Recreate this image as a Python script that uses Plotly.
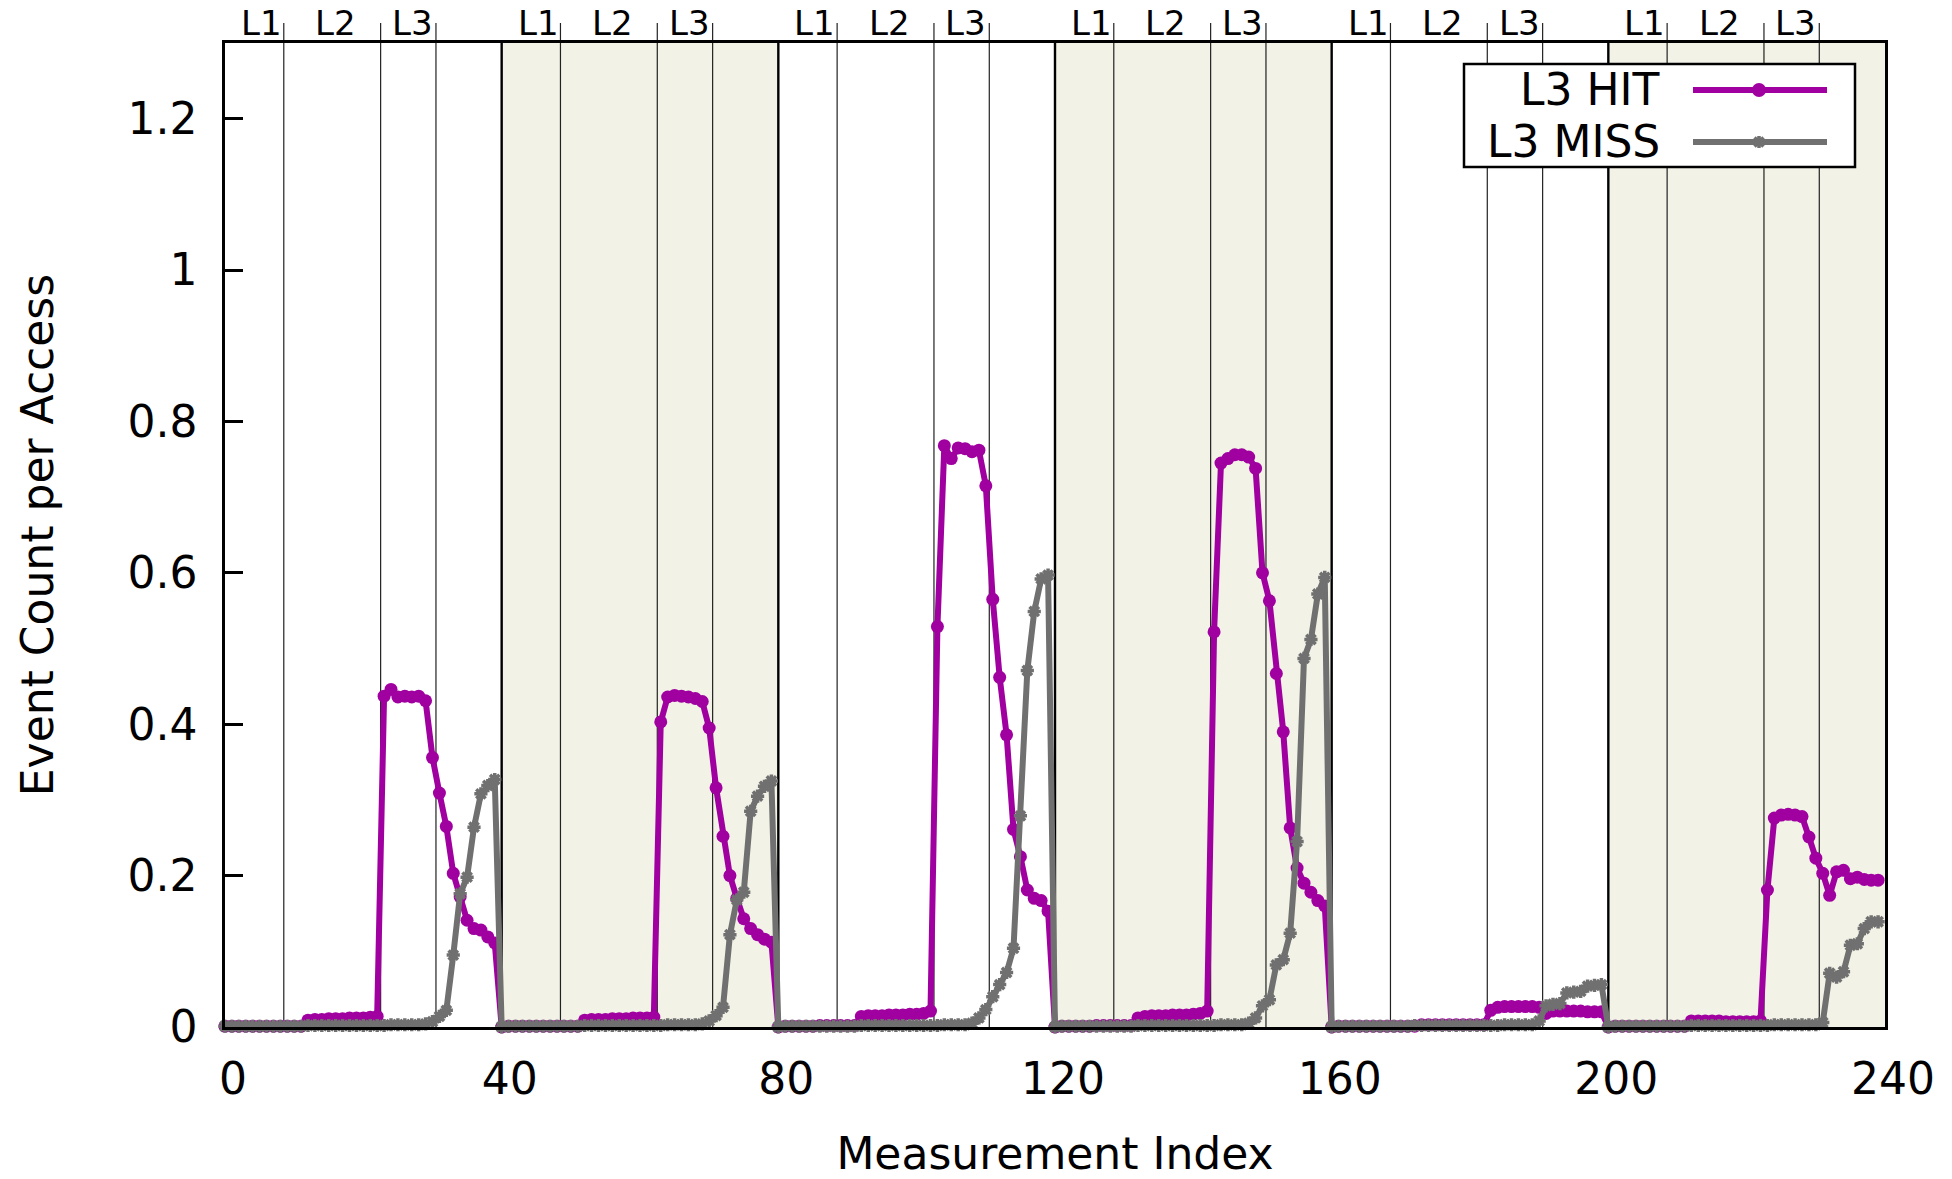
import plotly.graph_objects as go

# ---------------- data ----------------
x_index = list(range(240))

hit_block0 = [0.001, 0.001, 0.001, 0.001, 0.001, 0.001, 0.001, 0.001, 0.001, 0.001, 0.001, 0.001,
              0.009, 0.010, 0.010, 0.011, 0.011, 0.011, 0.012, 0.012, 0.012, 0.013, 0.014,
              0.437, 0.446, 0.436, 0.437, 0.436, 0.437, 0.431, 0.356, 0.309, 0.265, 0.203,
              0.172, 0.141, 0.130, 0.128, 0.119, 0.111]
hit_block1 = [0.000, 0.001, 0.001, 0.001, 0.001, 0.001, 0.001, 0.001, 0.001, 0.001, 0.001, 0.001,
              0.009, 0.010, 0.010, 0.010, 0.011, 0.011, 0.011, 0.012, 0.012, 0.012, 0.013,
              0.403, 0.436, 0.438, 0.437, 0.436, 0.434, 0.430, 0.395, 0.316, 0.252, 0.200,
              0.170, 0.143, 0.130, 0.122, 0.116, 0.112]
hit_block2 = [0.000, 0.001, 0.001, 0.001, 0.001, 0.001, 0.002, 0.002, 0.002, 0.002, 0.002, 0.002,
              0.014, 0.015, 0.015, 0.015, 0.016, 0.016, 0.016, 0.017, 0.017, 0.018, 0.021,
              0.529, 0.768, 0.751, 0.765, 0.764, 0.760, 0.762, 0.715, 0.565, 0.462, 0.386,
              0.261, 0.225, 0.181, 0.170, 0.167, 0.153]
hit_block3 = [0.000, 0.001, 0.001, 0.001, 0.001, 0.001, 0.002, 0.002, 0.002, 0.002, 0.002, 0.002,
              0.012, 0.014, 0.015, 0.015, 0.015, 0.016, 0.016, 0.016, 0.017, 0.018, 0.021,
              0.522, 0.745, 0.751, 0.756, 0.756, 0.753, 0.738, 0.600, 0.563, 0.467, 0.390,
              0.263, 0.210, 0.190, 0.178, 0.167, 0.160]
hit_block4 = [0.000, 0.001, 0.001, 0.001, 0.001, 0.001, 0.001, 0.001, 0.001, 0.001, 0.001, 0.001,
              0.001, 0.003, 0.003, 0.003, 0.003, 0.003, 0.003, 0.003, 0.003, 0.003, 0.003,
              0.022, 0.026, 0.027, 0.027, 0.027, 0.027, 0.027, 0.026, 0.018, 0.021, 0.021,
              0.021, 0.021, 0.021, 0.020, 0.020, 0.020]
hit_block5 = [0.000, 0.001, 0.001, 0.001, 0.001, 0.001, 0.001, 0.001, 0.001, 0.001, 0.001, 0.001,
              0.008, 0.008, 0.008, 0.008, 0.008, 0.007, 0.007, 0.007, 0.007, 0.007, 0.008,
              0.181, 0.276, 0.280, 0.281, 0.280, 0.278, 0.251, 0.223, 0.203, 0.174, 0.205,
              0.207, 0.196, 0.198, 0.195, 0.194, 0.194]

miss_block0 = [0.001, 0.001, 0.001, 0.001, 0.001, 0.001, 0.001, 0.001, 0.001, 0.001, 0.001, 0.001,
               0.002, 0.002, 0.002, 0.002, 0.002, 0.002, 0.002, 0.002, 0.002, 0.002, 0.002,
               0.002, 0.003, 0.003, 0.003, 0.003, 0.003, 0.004, 0.007, 0.014, 0.022, 0.095,
               0.176, 0.198, 0.264, 0.308, 0.319, 0.327]
miss_block1 = [0.000, 0.001, 0.001, 0.001, 0.001, 0.001, 0.001, 0.001, 0.001, 0.001, 0.001, 0.001,
               0.002, 0.002, 0.002, 0.002, 0.002, 0.002, 0.002, 0.002, 0.002, 0.002, 0.002,
               0.002, 0.003, 0.003, 0.003, 0.003, 0.003, 0.004, 0.008, 0.015, 0.026, 0.122,
               0.168, 0.178, 0.285, 0.305, 0.318, 0.325]
miss_block2 = [0.000, 0.001, 0.001, 0.001, 0.001, 0.001, 0.001, 0.001, 0.001, 0.001, 0.001, 0.001,
               0.002, 0.002, 0.002, 0.002, 0.002, 0.002, 0.002, 0.002, 0.002, 0.002, 0.002,
               0.002, 0.003, 0.003, 0.003, 0.003, 0.005, 0.012, 0.023, 0.040, 0.056, 0.072,
               0.104, 0.279, 0.471, 0.549, 0.592, 0.597]
miss_block3 = [0.000, 0.001, 0.001, 0.001, 0.001, 0.001, 0.001, 0.001, 0.001, 0.001, 0.001, 0.001,
               0.002, 0.002, 0.002, 0.002, 0.002, 0.002, 0.002, 0.002, 0.002, 0.002, 0.002,
               0.002, 0.003, 0.003, 0.003, 0.003, 0.005, 0.012, 0.028, 0.036, 0.082, 0.089,
               0.124, 0.245, 0.487, 0.512, 0.572, 0.594]
miss_block4 = [0.000, 0.001, 0.001, 0.001, 0.001, 0.001, 0.001, 0.001, 0.001, 0.001, 0.001, 0.001,
               0.002, 0.002, 0.002, 0.002, 0.002, 0.002, 0.002, 0.002, 0.002, 0.002, 0.002,
               0.002, 0.002, 0.003, 0.003, 0.003, 0.003, 0.003, 0.008, 0.028, 0.030, 0.031,
               0.045, 0.046, 0.047, 0.054, 0.055, 0.056]
miss_block5 = [0.000, 0.001, 0.001, 0.001, 0.001, 0.001, 0.001, 0.001, 0.001, 0.001, 0.001, 0.001,
               0.002, 0.002, 0.002, 0.002, 0.002, 0.002, 0.002, 0.002, 0.002, 0.002, 0.002,
               0.002, 0.003, 0.003, 0.003, 0.003, 0.003, 0.003, 0.003, 0.006, 0.071, 0.066,
               0.073, 0.108, 0.110, 0.130, 0.139, 0.139]

series_names = ["L3 HIT", "L3 MISS"]
x_tick_vals = [0, 40, 80, 120, 160, 200, 240]
y_tick_vals = [0, 0.2, 0.4, 0.6, 0.8, 1.0, 1.2]
y_tick_text = ["0", "0.2", "0.4", "0.6", "0.8", "1", "1.2"]
block_starts = [0, 40, 80, 120, 160, 200]
level_names = ["L1", "L2", "L3"]
level_bounds = [8.5, 22.5, 30.5]          # boundaries inside each 40-sample block
level_label_pos = [5.3, 16.0, 27.1]       # label centres inside each block
shaded_blocks = [1, 3, 5]

hit = hit_block0 + hit_block1 + hit_block2 + hit_block3 + hit_block4 + hit_block5
miss = miss_block0 + miss_block1 + miss_block2 + miss_block3 + miss_block4 + miss_block5

# ---------------- style ----------------
HIT_COLOR = "#A0009F"
MISS_COLOR = "#707070"
FONT = "DejaVu Sans"
W, H = 1952, 1179
L, R, T, B = 225, 67, 43, 152
plot_w = W - L - R
plot_h = H - T - B

fig = go.Figure()
fig.add_trace(go.Scatter(
    x=x_index, y=hit, name=series_names[0], mode="lines+markers",
    line=dict(color=HIT_COLOR, width=6),
    marker=dict(symbol="circle", size=13, color=HIT_COLOR),
    cliponaxis=False))
fig.add_trace(go.Scatter(
    x=x_index, y=miss, name=series_names[1], mode="lines+markers",
    line=dict(color=MISS_COLOR, width=6),
    marker=dict(symbol="asterisk-open", size=11, color=MISS_COLOR,
                line=dict(color=MISS_COLOR, width=3.5)),
    cliponaxis=False))

shapes = []
# shaded blocks
for b in shaded_blocks:
    shapes.append(dict(type="rect", xref="x", yref="paper",
                       x0=block_starts[b], x1=block_starts[b] + 40, y0=0, y1=1,
                       fillcolor="#F2F2E7", line=dict(width=0), layer="below"))
# level boundary lines (extend slightly above the frame)
ext = 1 + 20 / plot_h
for s in block_starts:
    for lb in level_bounds:
        shapes.append(dict(type="line", xref="x", yref="paper",
                           x0=s + lb, x1=s + lb, y0=0, y1=ext,
                           line=dict(color="#222222", width=1.2), layer="below"))
# block boundary lines
for s in block_starts[1:]:
    shapes.append(dict(type="line", xref="x", yref="paper",
                       x0=s, x1=s, y0=0, y1=1,
                       line=dict(color="black", width=2.4), layer="below"))

# custom gnuplot-style legend (text left, sample right)
def px_x(px):
    return (px - L) / plot_w

def px_y(py):
    return (H - B - py) / plot_h

shapes.append(dict(type="rect", xref="paper", yref="paper",
                   x0=px_x(1464), x1=px_x(1855), y0=px_y(167), y1=px_y(64),
                   fillcolor="white", line=dict(color="black", width=2.5), layer="above"))
leg_rows = [px_y(90), px_y(142)]
shapes.append(dict(type="line", xref="paper", yref="paper",
                   x0=px_x(1693), x1=px_x(1827), y0=leg_rows[0], y1=leg_rows[0],
                   line=dict(color=HIT_COLOR, width=6), layer="above"))
shapes.append(dict(type="circle", xref="paper", yref="paper",
                   xsizemode="pixel", ysizemode="pixel",
                   xanchor=px_x(1759), yanchor=leg_rows[0],
                   x0=-7, x1=7, y0=-7, y1=7,
                   fillcolor=HIT_COLOR, line=dict(width=0), layer="above"))
shapes.append(dict(type="line", xref="paper", yref="paper",
                   x0=px_x(1693), x1=px_x(1827), y0=leg_rows[1], y1=leg_rows[1],
                   line=dict(color=MISS_COLOR, width=6), layer="above"))
shapes.append(dict(type="path", xref="paper", yref="paper",
                   xsizemode="pixel", ysizemode="pixel",
                   xanchor=px_x(1759), yanchor=leg_rows[1],
                   path="M-6,0 L6,0 M0,-6 L0,6 M-4.5,-4.5 L4.5,4.5 M-4.5,4.5 L4.5,-4.5",
                   line=dict(color=MISS_COLOR, width=3.5), layer="above"))

annotations = []
for i, name in enumerate(series_names):
    annotations.append(dict(xref="paper", yref="paper", x=px_x(1662), y=leg_rows[i],
                            xanchor="right", yanchor="middle", text=name, showarrow=False,
                            font=dict(family=FONT, size=44, color="black")))
# L1/L2/L3 labels above the frame
for s in block_starts:
    for name, pos in zip(level_names, level_label_pos):
        annotations.append(dict(xref="x", yref="paper", x=s + pos, y=px_y(23),
                                xanchor="center", yanchor="middle", text=name,
                                showarrow=False,
                                font=dict(family=FONT, size=34, color="black")))

fig.update_layout(
    width=W, height=H,
    margin=dict(l=L, r=R, t=T, b=B, autoexpand=False),
    plot_bgcolor="white", paper_bgcolor="white",
    showlegend=False,
    font=dict(family=FONT, size=44, color="black"),
    shapes=shapes, annotations=annotations,
    xaxis=dict(range=[0, 240], tickvals=x_tick_vals, ticks="", showgrid=False,
               zeroline=False, showline=True, linecolor="black", linewidth=2.5,
               mirror=True, ticklabelstandoff=11, ticklabelshift=8,
               title=dict(text="Measurement Index", standoff=38,
                          font=dict(family=FONT, size=44)),
               tickfont=dict(family=FONT, size=44)),
    yaxis=dict(range=[0, 1.3], tickvals=y_tick_vals, ticktext=y_tick_text,
               ticks="inside", ticklen=18, tickwidth=2.5, tickcolor="black",
               showgrid=False, zeroline=False, showline=True, linecolor="black",
               linewidth=2.5, mirror=True, ticklabelstandoff=16,
               title=dict(text="Event Count per Access", standoff=61,
                          font=dict(family=FONT, size=44)),
               tickfont=dict(family=FONT, size=44)),
)

fig.write_html("out.html")
